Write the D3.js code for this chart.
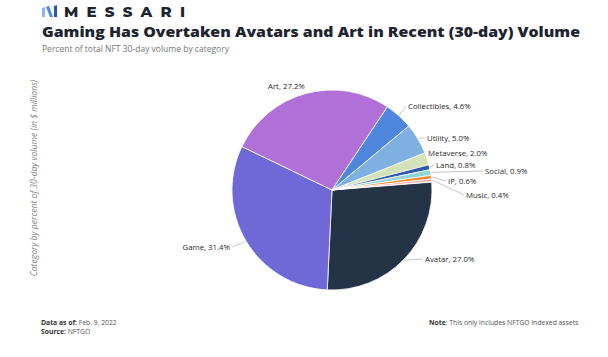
<!DOCTYPE html>
<html>
<head>
<meta charset="utf-8">
<script src="https://cdn.jsdelivr.net/npm/d3@7"></script>
<style>
  html, body { margin: 0; padding: 0; background: #fff; }
  svg { display: block; }
</style>
</head>
<body>
<svg id="chart" width="608" height="357"></svg>
<script>
// ---- data ----
const categories = ["Avatar", "Game", "Art", "Collectibles", "Utility", "Metaverse", "Land", "Social", "IP", "Music"];
const shares = [27.0, 31.4, 27.2, 4.6, 5.0, 2.0, 0.8, 0.9, 0.6, 0.4];
const colors = ["#243346", "#6e69d6", "#b070d8", "#4f87dd", "#7eb0e1", "#d2e3b9", "#2f5aa9", "#8fd4dd", "#f08a2f", "#f3a5a2"];

// ---- layout for labels (text position, and whether a leader line is drawn) ----
const labelLayout = {
  Avatar:      { x: 425, y: 259, anchor: "start", line: true },
  Game:        { x: 230, y: 247, anchor: "end",   line: true },
  Art:         { x: 268, y: 86,  anchor: "start", line: false },
  Collectibles:{ x: 408, y: 106, anchor: "start", line: true },
  Utility:     { x: 427, y: 138, anchor: "start", line: true },
  Metaverse:   { x: 428, y: 153, anchor: "start", line: false },
  Land:        { x: 436, y: 165, anchor: "start", line: true },
  Social:      { x: 485, y: 171, anchor: "start", line: true },
  IP:          { x: 448, y: 181, anchor: "start", line: true },
  Music:       { x: 466, y: 195, anchor: "start", line: true }
};

const svg = d3.select("#chart");
const FONT = "'Open Sans', 'Noto Sans', sans-serif";

// ---- header: logo ----
const logo = svg.append("g").attr("transform", "translate(42,5)");
logo.append("path").attr("d", "M0,3 L3,2 L3,12 L0,12 Z").attr("fill", "#8fb8ea");
logo.append("path").attr("d", "M4,2 L7,1 L11,12 L8,12 Z").attr("fill", "#4f87dd");
logo.append("path").attr("d", "M12,1 L15,0 L15,12 L12,12 Z").attr("fill", "#2a55b0");
svg.append("text")
  .attr("x", 64).attr("y", 17)
  .attr("font-family", "'Montserrat', 'Open Sans', sans-serif")
  .attr("font-weight", 800).attr("font-size", 15)
  .attr("fill", "#1d2430")
  .attr("textLength", 121).attr("lengthAdjust", "spacing")
  .text("MESSARI");

svg.append("text")
  .attr("x", 42).attr("y", 37)
  .attr("font-family", FONT).attr("font-weight", 800).attr("font-size", 14.5)
  .attr("fill", "#1d2430")
  .attr("textLength", 538).attr("lengthAdjust", "spacingAndGlyphs")
  .text("Gaming Has Overtaken Avatars and Art in Recent (30-day) Volume");

svg.append("text")
  .attr("x", 42).attr("y", 52)
  .attr("font-family", FONT).attr("font-size", 8.5)
  .attr("fill", "#777")
  .text("Percent of total NFT 30-day volume by category");

// ---- y axis label ----
svg.append("text")
  .attr("transform", "translate(37,178) rotate(-90)")
  .attr("text-anchor", "middle")
  .attr("font-family", FONT).attr("font-size", 8.6).attr("font-style", "italic")
  .attr("fill", "#888")
  .text("Category by percent of 30-day volume (in $ millions)");

// ---- pie ----
const cx = 332, cy = 190, R = 100;
const data = categories.map((c, i) => ({ name: c, value: shares[i], color: colors[i] }));
const startA = 85.5 * Math.PI / 180;
const pie = d3.pie().value(d => d.value).sort(null)
  .startAngle(startA).endAngle(startA + 2 * Math.PI * d3.sum(shares) / 100);
const arcs = pie(data);
const arc = d3.arc().innerRadius(0).outerRadius(R);

const g = svg.append("g").attr("transform", `translate(${cx},${cy})`);
g.selectAll("path.slice").data(arcs).join("path")
  .attr("class", "slice")
  .attr("d", arc)
  .attr("fill", d => d.data.color)
  .attr("stroke", "#fff").attr("stroke-width", 0.8);

// leader lines + labels
const outerPt = (d, r) => {
  const a = (d.startAngle + d.endAngle) / 2;
  return [cx + r * Math.sin(a), cy - r * Math.cos(a)];
};
arcs.forEach(d => {
  const L = labelLayout[d.data.name];
  const p = outerPt(d, R + 1);
  if (L.line) {
    const ex = L.anchor === "end" ? L.x + 2 : L.x - 2;
    svg.append("polyline")
      .attr("points", `${p[0]},${p[1]} ${ex},${L.y}`)
      .attr("fill", "none").attr("stroke", "#b8b8b8").attr("stroke-width", 0.8);
  }
  svg.append("text")
    .attr("x", L.x).attr("y", L.y).attr("dy", "0.35em")
    .attr("text-anchor", L.anchor)
    .attr("font-family", FONT).attr("font-size", 7.8)
    .attr("fill", "#2a2a2a")
    .text(`${d.data.name}, ${d3.format(".1f")(d.data.value)}%`);
});

// ---- footer ----
const foot = svg.append("g").attr("font-family", FONT).attr("font-size", 6.8).attr("fill", "#555");
const t1 = foot.append("text").attr("x", 41).attr("y", 325);
t1.append("tspan").attr("font-weight", 700).attr("fill", "#333").text("Data as of:");
t1.append("tspan").text(" Feb. 9, 2022");
const t2 = foot.append("text").attr("x", 41).attr("y", 334);
t2.append("tspan").attr("font-weight", 700).attr("fill", "#333").text("Source:");
t2.append("tspan").text(" NFTGO");
const t3 = foot.append("text").attr("x", 429).attr("y", 325);
t3.append("tspan").attr("font-weight", 700).attr("fill", "#333").text("Note");
t3.append("tspan").text(": This only includes NFTGO indexed assets");
</script>
</body>
</html>
